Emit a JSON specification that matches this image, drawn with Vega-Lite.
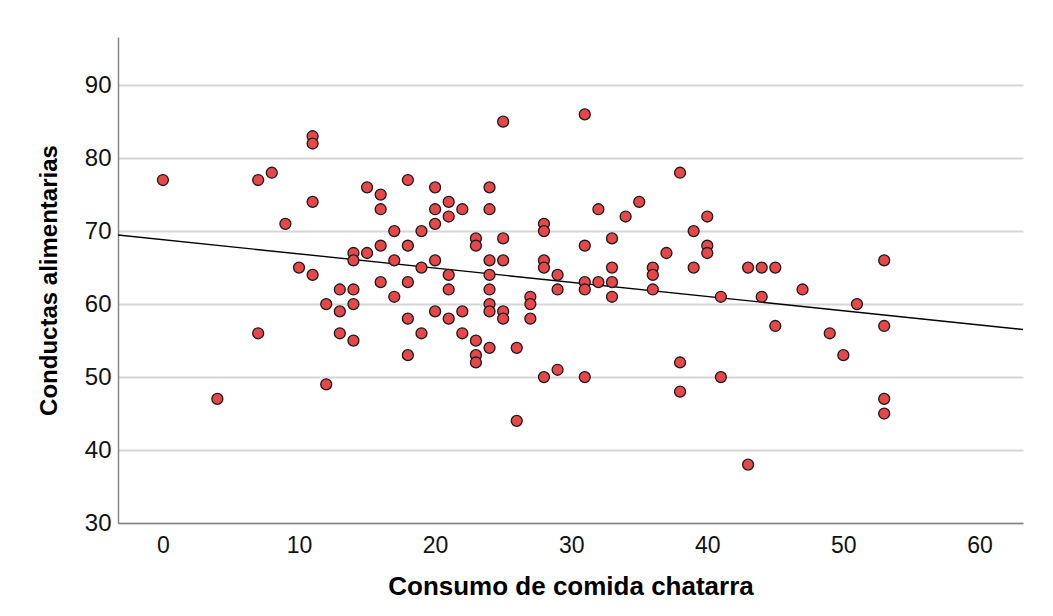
{
  "$schema": "https://vega.github.io/schema/vega-lite/v6.json",
  "autosize": "none",
  "width": 905,
  "height": 486,
  "padding": {"left": 118, "top": 37, "right": 30, "bottom": 93},
  "background": "white",
  "config": {
    "view": {"stroke": null},
    "font": "Liberation Sans"
  },
  "data": {"values": [
    {"consumo": 0, "conductas": 77},
    {"consumo": 4, "conductas": 47},
    {"consumo": 7, "conductas": 77},
    {"consumo": 7, "conductas": 56},
    {"consumo": 8, "conductas": 78},
    {"consumo": 9, "conductas": 71},
    {"consumo": 10, "conductas": 65},
    {"consumo": 11, "conductas": 83},
    {"consumo": 11, "conductas": 82},
    {"consumo": 11, "conductas": 74},
    {"consumo": 11, "conductas": 64},
    {"consumo": 12, "conductas": 60},
    {"consumo": 12, "conductas": 49},
    {"consumo": 13, "conductas": 62},
    {"consumo": 13, "conductas": 59},
    {"consumo": 13, "conductas": 56},
    {"consumo": 14, "conductas": 67},
    {"consumo": 14, "conductas": 66},
    {"consumo": 14, "conductas": 62},
    {"consumo": 14, "conductas": 60},
    {"consumo": 14, "conductas": 55},
    {"consumo": 15, "conductas": 76},
    {"consumo": 15, "conductas": 67},
    {"consumo": 16, "conductas": 75},
    {"consumo": 16, "conductas": 73},
    {"consumo": 16, "conductas": 68},
    {"consumo": 16, "conductas": 63},
    {"consumo": 17, "conductas": 70},
    {"consumo": 17, "conductas": 66},
    {"consumo": 17, "conductas": 61},
    {"consumo": 18, "conductas": 77},
    {"consumo": 18, "conductas": 68},
    {"consumo": 18, "conductas": 63},
    {"consumo": 18, "conductas": 58},
    {"consumo": 18, "conductas": 53},
    {"consumo": 19, "conductas": 70},
    {"consumo": 19, "conductas": 65},
    {"consumo": 19, "conductas": 56},
    {"consumo": 20, "conductas": 76},
    {"consumo": 20, "conductas": 73},
    {"consumo": 20, "conductas": 71},
    {"consumo": 20, "conductas": 66},
    {"consumo": 20, "conductas": 59},
    {"consumo": 21, "conductas": 74},
    {"consumo": 21, "conductas": 72},
    {"consumo": 21, "conductas": 64},
    {"consumo": 21, "conductas": 62},
    {"consumo": 21, "conductas": 58},
    {"consumo": 22, "conductas": 73},
    {"consumo": 22, "conductas": 59},
    {"consumo": 22, "conductas": 56},
    {"consumo": 23, "conductas": 69},
    {"consumo": 23, "conductas": 68},
    {"consumo": 23, "conductas": 55},
    {"consumo": 23, "conductas": 53},
    {"consumo": 23, "conductas": 52},
    {"consumo": 24, "conductas": 76},
    {"consumo": 24, "conductas": 73},
    {"consumo": 24, "conductas": 66},
    {"consumo": 24, "conductas": 64},
    {"consumo": 24, "conductas": 62},
    {"consumo": 24, "conductas": 60},
    {"consumo": 24, "conductas": 59},
    {"consumo": 24, "conductas": 54},
    {"consumo": 25, "conductas": 85},
    {"consumo": 25, "conductas": 69},
    {"consumo": 25, "conductas": 66},
    {"consumo": 25, "conductas": 59},
    {"consumo": 25, "conductas": 58},
    {"consumo": 26, "conductas": 54},
    {"consumo": 26, "conductas": 44},
    {"consumo": 27, "conductas": 61},
    {"consumo": 27, "conductas": 60},
    {"consumo": 27, "conductas": 58},
    {"consumo": 28, "conductas": 71},
    {"consumo": 28, "conductas": 70},
    {"consumo": 28, "conductas": 66},
    {"consumo": 28, "conductas": 65},
    {"consumo": 28, "conductas": 50},
    {"consumo": 29, "conductas": 64},
    {"consumo": 29, "conductas": 62},
    {"consumo": 29, "conductas": 51},
    {"consumo": 31, "conductas": 86},
    {"consumo": 31, "conductas": 68},
    {"consumo": 31, "conductas": 63},
    {"consumo": 31, "conductas": 62},
    {"consumo": 31, "conductas": 50},
    {"consumo": 32, "conductas": 73},
    {"consumo": 32, "conductas": 63},
    {"consumo": 33, "conductas": 69},
    {"consumo": 33, "conductas": 65},
    {"consumo": 33, "conductas": 63},
    {"consumo": 33, "conductas": 61},
    {"consumo": 34, "conductas": 72},
    {"consumo": 35, "conductas": 74},
    {"consumo": 36, "conductas": 65},
    {"consumo": 36, "conductas": 64},
    {"consumo": 36, "conductas": 62},
    {"consumo": 37, "conductas": 67},
    {"consumo": 38, "conductas": 78},
    {"consumo": 38, "conductas": 52},
    {"consumo": 38, "conductas": 48},
    {"consumo": 39, "conductas": 70},
    {"consumo": 39, "conductas": 65},
    {"consumo": 40, "conductas": 72},
    {"consumo": 40, "conductas": 68},
    {"consumo": 40, "conductas": 67},
    {"consumo": 41, "conductas": 61},
    {"consumo": 41, "conductas": 50},
    {"consumo": 43, "conductas": 65},
    {"consumo": 43, "conductas": 38},
    {"consumo": 44, "conductas": 65},
    {"consumo": 44, "conductas": 61},
    {"consumo": 45, "conductas": 65},
    {"consumo": 45, "conductas": 57},
    {"consumo": 47, "conductas": 62},
    {"consumo": 49, "conductas": 56},
    {"consumo": 50, "conductas": 53},
    {"consumo": 51, "conductas": 60},
    {"consumo": 53, "conductas": 66},
    {"consumo": 53, "conductas": 57},
    {"consumo": 53, "conductas": 47},
    {"consumo": 53, "conductas": 45}
  ]},
  "encoding": {
    "x": {
      "field": "consumo",
      "type": "quantitative",
      "scale": {"domain": [-3.3, 63.2], "nice": false, "zero": false},
      "axis": {
        "title": "Consumo de comida chatarra",
        "values": [0, 10, 20, 30, 40, 50, 60],
        "grid": false,
        "ticks": false,
        "domainColor": "#888888",
        "domainWidth": 1.5,
        "labelFont": "Liberation Sans",
        "labelFontSize": 23,
        "labelColor": "#111111",
        "labelPadding": 11,
        "titleFont": "Liberation Sans",
        "titleFontSize": 26,
        "titleFontWeight": "bold",
        "titleColor": "#000000",
        "titlePadding": 16
      }
    },
    "y": {
      "field": "conductas",
      "type": "quantitative",
      "scale": {"domain": [30, 96.6], "nice": false, "zero": false},
      "axis": {
        "title": "Conductas alimentarias",
        "values": [30, 40, 50, 60, 70, 80, 90],
        "grid": true,
        "gridColor": "#d6d6d6",
        "gridWidth": 2,
        "ticks": false,
        "domainColor": "#888888",
        "domainWidth": 1.5,
        "labelFont": "Liberation Sans",
        "labelFontSize": 24,
        "labelColor": "#111111",
        "labelPadding": 7,
        "titleFont": "Liberation Sans",
        "titleFontSize": 24,
        "titleFontWeight": "bold",
        "titleColor": "#000000",
        "titlePadding": 23
      }
    }
  },
  "layer": [
    {
      "transform": [{"regression": "conductas", "on": "consumo", "extent": [-3.3, 63.2]}],
      "mark": {"type": "line", "color": "#000000", "strokeWidth": 1.4, "clip": true}
    },
    {
      "mark": {"type": "point", "filled": true, "shape": "circle", "size": 120, "fill": "#E8474A", "stroke": "#1a1a1a", "strokeWidth": 1.3, "opacity": 1}
    }
  ]
}
